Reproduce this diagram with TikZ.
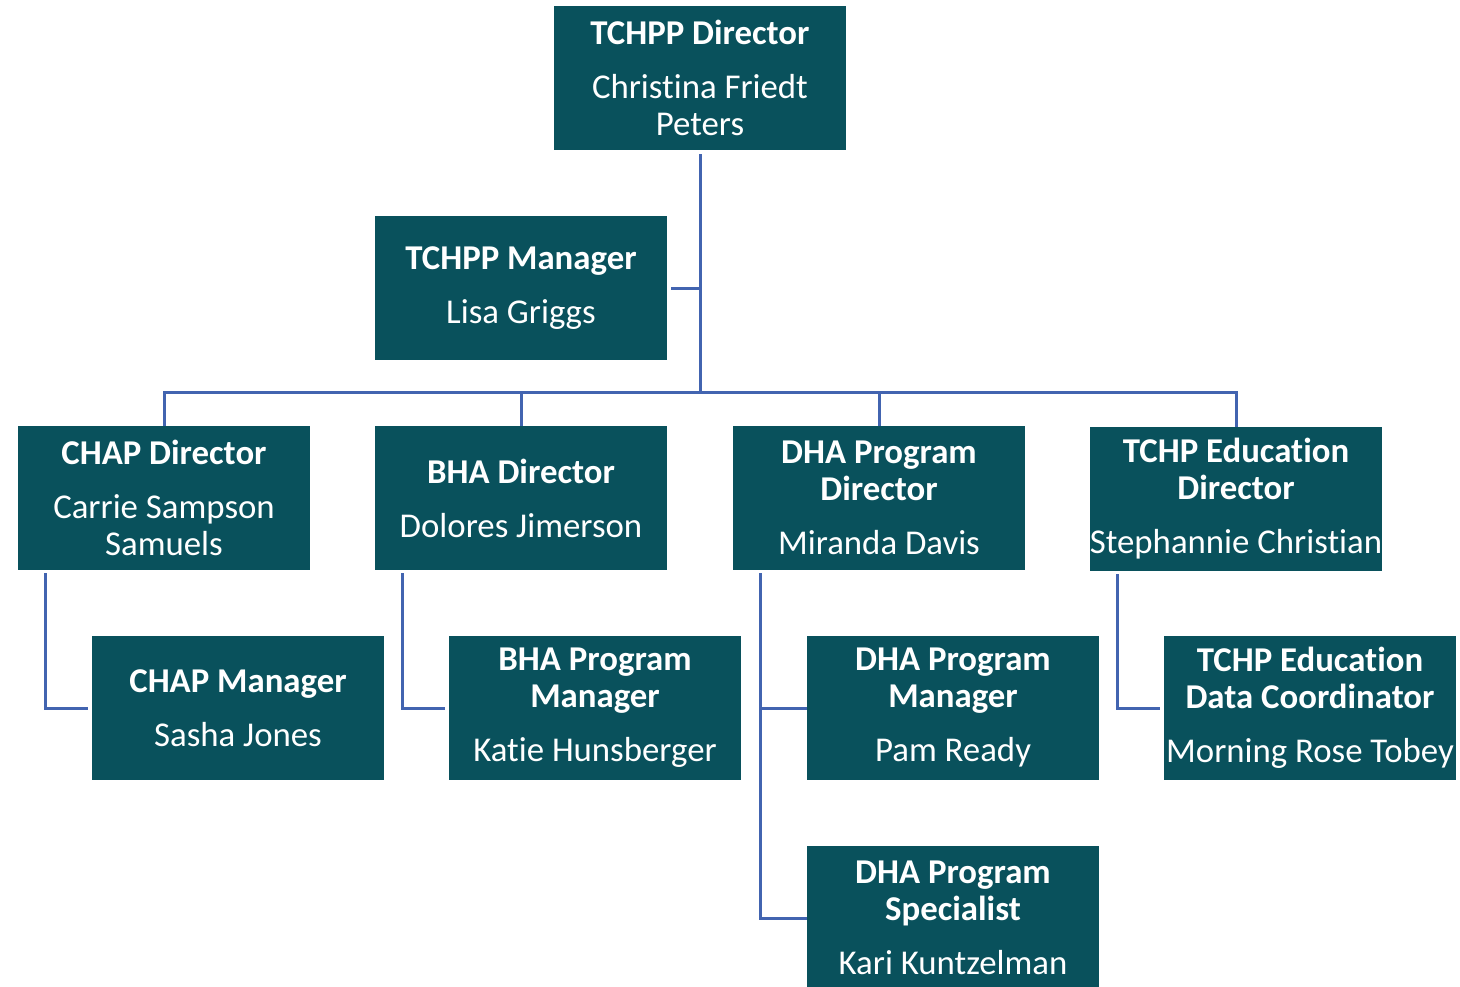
\documentclass[tikz,border=0pt]{standalone}
\usepackage{fontspec}
\setmainfont[Ligatures=NoCommon]{Carlito}
\usepackage{xcolor}
\usepackage{tikz}
\usetikzlibrary{positioning, calc}
\definecolor{boxColor}{RGB}{9, 81, 92}
\definecolor{lineColor}{RGB}{66, 100, 176}

\tikzset{
    role/.style={fill=boxColor, text=white, align=center, inner sep=0pt,
        minimum width=146pt, minimum height=72pt,
        font=\fontsize{17.4}{18.5}\selectfont},
    link/.style={draw=lineColor, line width=1.5pt}
}
\newcommand{\gap}{\\[8.5pt]}

\begin{document}
\begin{tikzpicture}[x=0.5pt, y=-0.5pt]
    \useasboundingbox (0,0) rectangle (1460,986);

    % Top
    \node[role] (tchppdir) at (700,78) {\textbf{TCHPP Director}\gap Christina Friedt\\Peters};
    \node[role] (tchppmgr) at (521,288) {\textbf{TCHPP Manager}\gap Lisa Griggs};

    % Directors
    \node[role] (chapdir) at (164,498) {\textbf{CHAP Director}\gap Carrie Sampson\\Samuels};
    \node[role] (bhadir) at (521,498) {\textbf{BHA Director}\gap Dolores Jimerson};
    \node[role] (dhadir) at (879,498) {\textbf{DHA Program}\\\textbf{Director}\gap Miranda Davis};
    \node[role] (edudir) at (1236,499) {\textbf{TCHP Education}\\\textbf{Director}\gap Stephannie Christian};

    % Staff
    \node[role] (chapmgr) at (238,708) {\textbf{CHAP Manager}\gap Sasha Jones};
    \node[role] (bhamgr) at (595,708) {\textbf{BHA Program}\\\textbf{Manager}\gap Katie Hunsberger};
    \node[role] (dhamgr) at (953,708) {\textbf{DHA Program}\\\textbf{Manager}\gap Pam Ready};
    \node[role] (educo) at (1310,708) {\textbf{TCHP Education}\\\textbf{Data Coordinator}\gap Morning Rose Tobey};
    \node[role] (dhaspec) at (953,918) {\textbf{DHA Program}\\\textbf{Specialist}\gap Kari Kuntzelman};

    % Connectors
    \coordinate (bus) at (700,392);
    \draw[link] ([yshift=-2pt]tchppdir.south) -- (bus);
    \draw[link] (tchppdir.south |- tchppmgr.east) -- ([xshift=2pt]tchppmgr.east);
    \draw[link] (chapdir.north) |- (bus) -| (edudir.north);
    \draw[link] (bhadir.north) -- (bhadir.north |- bus);
    \draw[link] (dhadir.north) -- (dhadir.north |- bus);

    \draw[link] ([xshift=14pt,yshift=-1.5pt]chapdir.south west) |- ([xshift=-2pt]chapmgr.west);
    \draw[link] ([xshift=14pt,yshift=-1.5pt]bhadir.south west) |- ([xshift=-2pt]bhamgr.west);
    \draw[link] ([xshift=14pt,yshift=-1.5pt]edudir.south west) |- ([xshift=-2pt]educo.west);
    \draw[link] ([xshift=14pt,yshift=-1.5pt]dhadir.south west) |- (dhaspec.west);
    \draw[link] ([xshift=14pt]dhadir.south west |- dhamgr.west) -- (dhamgr.west);

\end{tikzpicture}
\end{document}
